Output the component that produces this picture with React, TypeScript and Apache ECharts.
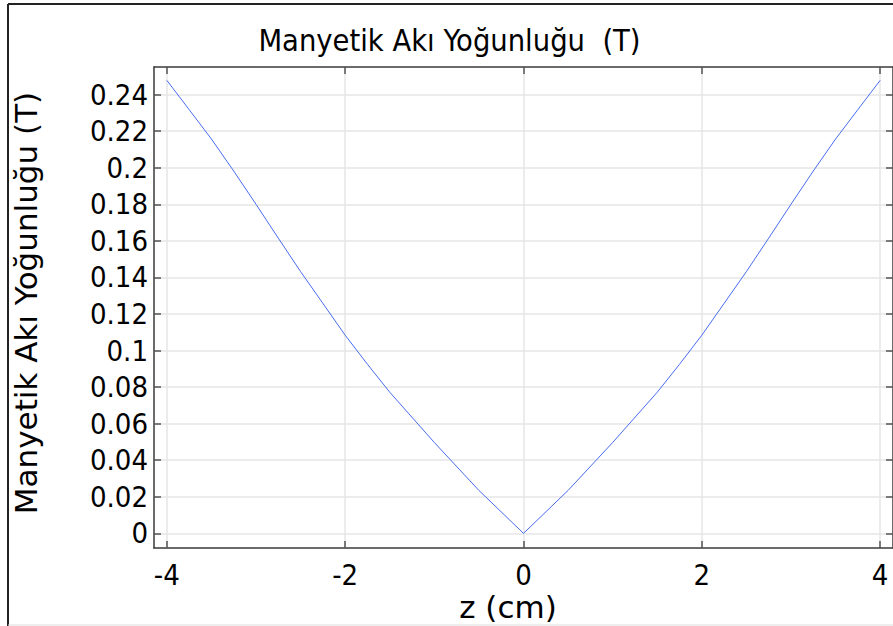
import React, { useEffect, useRef } from "react";
import * as echarts from "echarts";

const zValues = [-4, -3.75, -3.5, -3.25, -3, -2.75, -2.5, -2, -1.75, -1.5, -1, -0.5, 0, 0.5, 1, 1.5, 1.75, 2, 2.5, 2.75, 3, 3.25, 3.5, 3.75, 4];
const bValues = [0.2478, 0.2318, 0.2157, 0.1982, 0.18, 0.1615, 0.1432, 0.1084, 0.0925, 0.0772, 0.0497, 0.0235, 0, 0.0235, 0.0497, 0.0772, 0.0925, 0.1084, 0.1432, 0.1615, 0.18, 0.1982, 0.2157, 0.2318, 0.2478];
const xTicks = [-4, -2, 0, 2, 4];
const yTicks = [0, 0.02, 0.04, 0.06, 0.08, 0.1, 0.12, 0.14, 0.16, 0.18, 0.2, 0.22, 0.24];
const titleText = "Manyetik Akı Yoğunluğu  (T)";
const yName = "Manyetik Akı Yoğunluğu (T)";
const xName = "z (cm)";

const X_MIN = -4.144;
const X_MAX = 4.144;
const Y_MIN = -0.008;
const Y_MAX = 0.2551;

const COND = "'DejaVu Sans Condensed', 'DejaVu Sans', sans-serif";
const SANS = "'DejaVu Sans', sans-serif";

export default function App() {
  const ref = useRef<HTMLDivElement>(null);
  useEffect(() => {
    if (!ref.current) return;
    const chart = echarts.init(ref.current, undefined, { renderer: "svg" });
    const axisLine = { show: true, onZero: false, lineStyle: { color: "#3a3a3a", width: 1.5 } };
    const tick = (vals: number[]) => ({
      show: true,
      inside: true,
      length: 7,
      customValues: vals,
      lineStyle: { color: "#555", width: 1.5 },
    });
    const split = { show: true, lineStyle: { color: "#e6e6e6", width: 1.5 } };
    chart.setOption({
      animation: false,
      backgroundColor: "#fff",
      grid: { left: 154, top: 67, width: 741, height: 481, containLabel: false },
      xAxis: [
        {
          type: "value",
          min: X_MIN,
          max: X_MAX,
          position: "bottom",
          axisLine,
          axisTick: tick(xTicks),
          splitLine: split,
          axisLabel: {
            customValues: xTicks,
            color: "#000",
            fontFamily: COND,
            fontSize: 29,
            lineHeight: 24,
            margin: 15,
            formatter: (v: number) => String(v),
          },
        },
        {
          type: "value",
          min: X_MIN,
          max: X_MAX,
          position: "top",
          axisLine,
          axisTick: tick(xTicks),
          splitLine: { show: false },
          axisLabel: { show: false },
        },
      ],
      yAxis: [
        {
          type: "value",
          min: Y_MIN,
          max: Y_MAX,
          position: "left",
          axisLine,
          axisTick: tick(yTicks),
          splitLine: split,
          axisLabel: {
            customValues: yTicks,
            color: "#000",
            fontFamily: COND,
            fontSize: 29,
            margin: 6,
            formatter: (v: number) => String(Math.round(v * 100) / 100),
          },
        },
        {
          type: "value",
          min: Y_MIN,
          max: Y_MAX,
          position: "right",
          axisLine,
          axisTick: tick(yTicks),
          splitLine: { show: false },
          axisLabel: { show: false },
        },
      ],
      series: [
        {
          type: "line",
          data: zValues.map((z, i) => [z, bValues[i]]),
          showSymbol: false,
          lineStyle: { color: "#4a6cf0", width: 1 },
          clip: true,
        },
      ],
      graphic: [
        { type: "line", shape: { x1: 8, y1: 4, x2: 893, y2: 4 }, style: { stroke: "#222", lineWidth: 2 } },
        { type: "line", shape: { x1: 8, y1: 4, x2: 8, y2: 626 }, style: { stroke: "#222", lineWidth: 2 } },
        { type: "line", shape: { x1: 8, y1: 625, x2: 893, y2: 625 }, style: { stroke: "#ddd", lineWidth: 1 } },
        {
          type: "text",
          x: 449.5,
          y: 40,
          style: { text: titleText, fill: "#000", font: `30.5px ${COND}`, textAlign: "center", textVerticalAlign: "middle" },
        },
        {
          type: "text",
          x: 26,
          y: 303,
          rotation: Math.PI / 2,
          style: { text: yName, fill: "#000", font: `31px ${SANS}`, textAlign: "center", textVerticalAlign: "middle" },
        },
        {
          type: "text",
          x: 508,
          y: 607,
          style: { text: xName, fill: "#000", font: `31px ${SANS}`, lineHeight: 28, textAlign: "center", textVerticalAlign: "middle" },
        },
      ],
    });
    return () => chart.dispose();
  }, []);
  return (
    <div
      ref={ref}
      style={{ position: "absolute", left: 0, top: 0, width: 893, height: 626, overflow: "hidden" }}
    />
  );
}
